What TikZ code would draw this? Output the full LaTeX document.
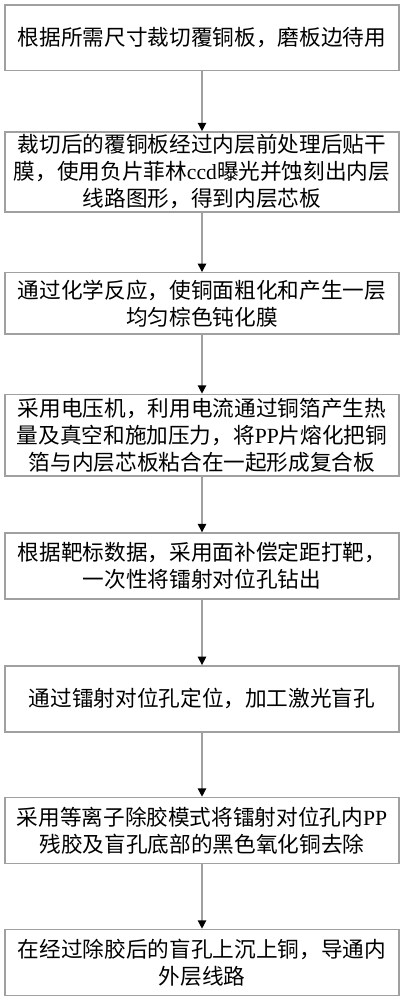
\documentclass[tikz,border=0pt]{standalone}
\usepackage{fontspec}
\setmainfont{Noto Sans CJK SC}
\newfontfamily\lat{Liberation Serif}
\usetikzlibrary{arrows.meta}
\definecolor{boxgray}{RGB}{160,160,160}
\tikzset{
  stepbox/.style={draw=boxgray, line width=1pt, minimum width=9.85cm,
    minimum height=1.65cm, align=center, inner sep=2pt,
    font=\fontsize{15.4}{19.2}\selectfont},
  flow/.style={draw=boxgray, line width=1pt,
    -{Triangle[length=0.21cm, width=0.21cm, color=black]}}
}

\begin{document}
\begin{tikzpicture}
      \useasboundingbox (0,0) rectangle (10.1,-25);
      \node[stepbox, minimum height=1.64cm] (S1) at (5.05,-0.944)
        {根据所需尺寸裁切覆铜板，磨板边待用};
      \node[stepbox, minimum height=1.95cm] (S2) at (5.05,-4.3)
        {裁切后的覆铜板经过内层前处理后贴干\\膜，使用负片菲林{\lat ccd}曝光并蚀刻出内层\\线路图形，得到内层芯板};
      \node[stepbox, minimum height=1.53cm] (S3) at (5.05,-7.583)
        {通过化学反应，使铜面粗化和产生一层\\均匀棕色钝化膜};
      \node[stepbox, minimum height=2.04cm] (S4) at (5.05,-10.88)
        {采用电压机，利用电流通过铜箔产生热\\量及真空和施加压力，将{\lat PP}片熔化把铜\\箔与内层芯板粘合在一起形成复合板};
      \node[stepbox] (S5) at (5.05,-14.15)
        {根据靶标数据，采用面补偿定距打靶，\\一次性将镭射对位孔钻出};
      \node[stepbox] (S6) at (5.05,-17.47)
        {通过镭射对位孔定位，加工激光盲孔};
      \node[stepbox] (S7) at (5.05,-20.76)
        {采用等离子除胶模式将镭射对位孔内{\lat PP}\\残胶及盲孔底部的黑色氧化铜去除};
      \node[stepbox] (S8) at (5.05,-24.06)
        {在经过除胶后的盲孔上沉上铜，导通内\\外层线路};
      \draw[flow] (S1) -- (S2);
      \draw[flow] (S2) -- (S3);
      \draw[flow] (S3) -- (S4);
      \draw[flow] (S4) -- (S5);
      \draw[flow] (S5) -- (S6);
      \draw[flow] (S6) -- (S7);
      \draw[flow] (S7) -- (S8);
    \end{tikzpicture}
\end{document}
